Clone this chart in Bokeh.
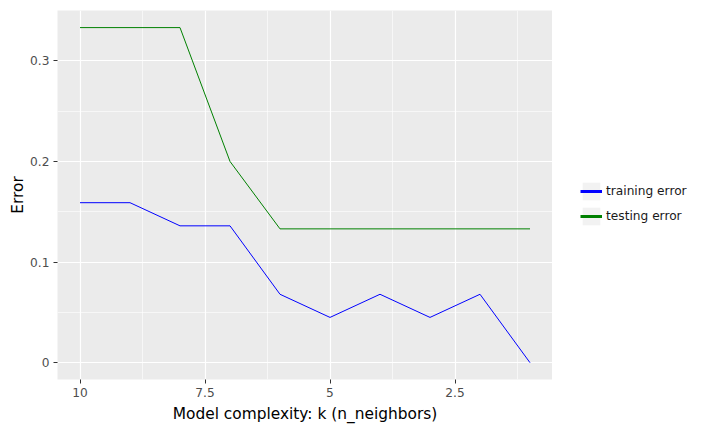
from bokeh.plotting import figure
from bokeh.layouts import row
from bokeh.models import Range1d, FixedTicker, Legend, LegendItem, ColumnDataSource
from bokeh.embed import file_html
from bokeh.resources import INLINE

k = [10, 9, 8, 7, 6, 5, 4, 3, 2, 1]
training_error = [0.159, 0.159, 0.136, 0.136, 0.068, 0.045, 0.068, 0.045, 0.068, 0.0]
testing_error = [0.333, 0.333, 0.333, 0.2, 0.133, 0.133, 0.133, 0.133, 0.133, 0.133]
x_ticks = [10, 7.5, 5, 2.5]
x_tick_labels = ["10", "7.5", "5", "2.5"]
y_ticks = [0, 0.1, 0.2, 0.3]
y_tick_labels = ["0", "0.1", "0.2", "0.3"]
series_names = ["training error", "testing error"]
series_colors = ["blue", "green"]

FONT = "DejaVu Sans"

p = figure(width=552, height=431, output_backend="svg", toolbar_location=None,
           x_range=Range1d(10.45, 0.55), y_range=Range1d(-0.0167, 0.35),
           min_border_left=57, min_border_top=10, min_border_bottom=52,
           min_border_right=0)

p.background_fill_color = "#ebebeb"
p.border_fill_color = "white"
p.outline_line_color = None

src = ColumnDataSource(dict(k=k, train=training_error, test=testing_error))
p.line("k", "train", source=src, line_color=series_colors[0], line_width=1)
p.line("k", "test", source=src, line_color=series_colors[1], line_width=1)

p.xaxis.ticker = FixedTicker(ticks=x_ticks, minor_ticks=[8.75, 6.25, 3.75, 1.25])
p.yaxis.ticker = FixedTicker(ticks=y_ticks, minor_ticks=[0.05, 0.15, 0.25])
p.xaxis.major_label_overrides = {t: l for t, l in zip(x_ticks, x_tick_labels)}
p.yaxis.major_label_overrides = {t: l for t, l in zip(y_ticks, y_tick_labels)}

for ax in (p.xaxis, p.yaxis):
    ax.axis_line_color = None
    ax.major_tick_line_color = "#333333"
    ax.major_tick_out = 4
    ax.major_tick_in = 0
    ax.minor_tick_line_color = None
    ax.major_label_text_font = FONT
    ax.major_label_text_font_size = "12.2px"
    ax.major_label_text_color = "#4d4d4d"
    ax.axis_label_text_font = FONT
    ax.axis_label_text_font_size = "15.4px"
    ax.axis_label_text_font_style = "normal"
    ax.axis_label_text_color = "black"

p.xaxis.axis_label = "Model complexity: k (n_neighbors)"
p.yaxis.axis_label = "Error"
p.xaxis.major_label_standoff = 4
p.yaxis.major_label_standoff = 4
p.xaxis.axis_label_standoff = 5
p.yaxis.axis_label_standoff = 0

p.grid.grid_line_color = "white"
p.grid.grid_line_width = 1.2
p.grid.minor_grid_line_color = "white"
p.grid.minor_grid_line_width = 0.6

# legend panel: a separate figure on the right
q = figure(width=162, height=431, output_backend="svg", toolbar_location=None,
           x_range=Range1d(0, 1), y_range=Range1d(0, 1),
           min_border=0)
q.axis.visible = False
q.grid.visible = False
q.outline_line_color = None
q.background_fill_color = "white"
q.border_fill_color = "white"

# legend-only renderers (grey key box + thicker key line, as in ggplot);
# zero-size glyphs off-range draw nothing themselves
s_tr = ColumnDataSource(dict(x=[-1], y=[-1]))
s_te = ColumnDataSource(dict(x=[-1], y=[-1]))
bg_tr = q.quad(left="x", right="x", bottom="y", top="y", source=s_tr,
               fill_color="#f2f2f2", line_color=None)
bg_te = q.quad(left="x", right="x", bottom="y", top="y", source=s_te,
               fill_color="#f2f2f2", line_color=None)
r_tr = q.line("x", "y", source=s_tr, line_color=series_colors[0], line_width=3)
r_te = q.line("x", "y", source=s_te, line_color=series_colors[1], line_width=3)

legend = Legend(items=[LegendItem(label=series_names[0], renderers=[bg_tr, r_tr]),
                       LegendItem(label=series_names[1], renderers=[bg_te, r_te])],
                location=(28, 152), orientation="vertical",
                border_line_color=None, background_fill_alpha=0,
                label_text_font=FONT, label_text_font_size="12.2px",
                label_text_color="#1a1a1a",
                glyph_width=22, glyph_height=22, label_standoff=4,
                spacing=3, padding=0, margin=0, label_height=22)
q.add_layout(legend, "center")

layout = row(p, q, spacing=0)

open("out.html", "w").write(file_html(layout, INLINE))
